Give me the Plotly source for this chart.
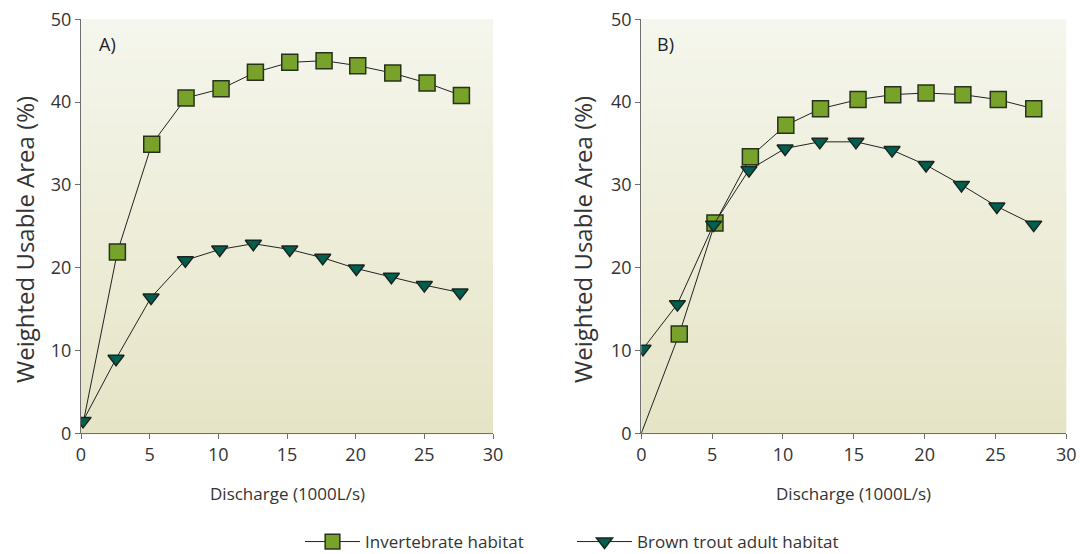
import plotly.graph_objects as go

# ---- data ----
x_inv_a = [0.2, 2.65, 5.15, 7.65, 10.2, 12.7, 15.2, 17.7, 20.15, 22.7, 25.2, 27.7]
y_inv_a = [1.6, 21.9, 34.9, 40.5, 41.6, 43.6, 44.8, 45.0, 44.4, 43.5, 42.3, 40.8]
x_trout_a = [0.15, 2.55, 5.1, 7.6, 10.1, 12.55, 15.2, 17.6, 20.05, 22.6, 25.0, 27.6]
y_trout_a = [1.5, 9.0, 16.4, 20.9, 22.2, 22.9, 22.2, 21.2, 19.9, 18.9, 17.9, 17.0]

x_inv_b = [0.0, 2.68, 5.2, 7.7, 10.2, 12.65, 15.3, 17.75, 20.1, 22.7, 25.2, 27.7]
y_inv_b = [0.0, 12.0, 25.4, 33.4, 37.2, 39.2, 40.3, 40.9, 41.1, 40.9, 40.3, 39.2]
x_trout_b = [0.12, 2.55, 5.1, 7.6, 10.15, 12.6, 15.15, 17.7, 20.1, 22.6, 25.1, 27.7]
y_trout_b = [10.2, 15.6, 25.2, 31.8, 34.4, 35.2, 35.2, 34.2, 32.4, 30.0, 27.4, 25.2]

x_ticks = [0, 5, 10, 15, 20, 25, 30]
y_ticks = [0, 10, 20, 30, 40, 50]

series_names = ["Invertebrate habitat", "Brown trout adult habitat"]

# ---- style ----
FONT = "Open Sans, Noto Sans, sans-serif"
TXT = "#333333"
SQ_FILL = "#79a22a"
SQ_LINE = "#26331a"
TR_FILL = "#005f4e"
TR_LINE = "#18261f"
LINE_C = "#222222"

# page body has an 8px default margin; lay the figure out in the visible area
OFF = 8
W, H = 1084 - OFF, 554 - OFF

def px(xp):
    return (xp - OFF) / W

def py(yp):
    return 1 - (yp - OFF) / H

fig = go.Figure()

def add_pair(xi, yi, xt, yt, xa, ya, show):
    sizes = [16] * len(xi)
    sizes[0] = 0  # first invertebrate marker hidden in the original
    fig.add_trace(go.Scatter(
        x=xi, y=yi, mode="lines+markers", name=series_names[0],
        xaxis=xa, yaxis=ya, showlegend=show, legendrank=1,
        line=dict(color=LINE_C, width=1),
        marker=dict(symbol="square", size=sizes, color=SQ_FILL, opacity=1,
                    line=dict(color=SQ_LINE, width=1.5)),
    ))
    fig.add_trace(go.Scatter(
        x=xt, y=yt, mode="lines+markers", name=series_names[1],
        xaxis=xa, yaxis=ya, showlegend=show, legendrank=2,
        line=dict(color=LINE_C, width=1),
        marker=dict(symbol="triangle-down", size=14, color=TR_FILL, opacity=1,
                    line=dict(color=TR_LINE, width=1.5)),
    ))

add_pair(x_inv_a, y_inv_a, x_trout_a, y_trout_a, "x", "y", True)
add_pair(x_inv_b, y_inv_b, x_trout_b, y_trout_b, "x2", "y2", False)

dom_a = [px(81), px(493)]
dom_b = [px(641.3), px(1066.3)]
dom_y = [py(433.3), py(19.3)]

axis_common = dict(
    showgrid=False, zeroline=False, showline=True, linecolor="#6e6e6e", linewidth=1.2,
    ticks="outside", ticklen=5, tickcolor="#6e6e6e", tickwidth=1.2,
    tickfont=dict(family=FONT, size=18, color=TXT), fixedrange=True, automargin=False,
    ticklabeloverflow="allow",
)
fig.update_layout(
    xaxis=dict(domain=dom_a, range=[0, 30], tickvals=x_ticks, anchor="y", **axis_common),
    yaxis=dict(domain=dom_y, range=[0, 50], tickvals=y_ticks, anchor="x", **axis_common),
    xaxis2=dict(domain=dom_b, range=[0, 30], tickvals=x_ticks, anchor="y2", **axis_common),
    yaxis2=dict(domain=dom_y, range=[0, 50], tickvals=y_ticks, anchor="x2", **axis_common),
)

# gradient background bands
top = (0xf5, 0xf6, 0xed)
bot = (0xe6, 0xe4, 0xc6)
N = 60
shapes = []
for xr, yr in (("x domain", "y domain"), ("x2 domain", "y2 domain")):
    for i in range(N):
        t = (i + 0.5) / N
        c = tuple(round(top[k] + (bot[k] - top[k]) * t) for k in range(3))
        shapes.append(dict(
            type="rect", xref=xr, yref=yr, x0=0, x1=1,
            y0=1 - (i + 1) / N - 0.002, y1=1 - i / N,
            fillcolor="rgb(%d,%d,%d)" % c, line=dict(width=0), layer="below",
        ))
fig.update_layout(shapes=shapes)

ann = []
for dom in (dom_a, dom_b):
    ann.append(dict(text="Discharge (1000L/s)", xref="paper", yref="paper",
                    x=(dom[0] + dom[1]) / 2, y=py(494), showarrow=False,
                    xanchor="center", yanchor="middle",
                    font=dict(family=FONT, size=17, color=TXT)))
for xp in (px(24), px(582)):
    ann.append(dict(text="Weighted Usable Area (%)", xref="paper", yref="paper",
                    x=xp, y=py(240), textangle=-90, showarrow=False,
                    xanchor="center", yanchor="middle",
                    font=dict(family=FONT, size=24, color=TXT)))
for lab, xp in (("A)", px(97)), ("B)", px(655))):
    ann.append(dict(text=lab, xref="paper", yref="paper", x=xp, y=py(44),
                    showarrow=False, xanchor="left", yanchor="middle",
                    font=dict(family=FONT, size=18, color="#222222")))
fig.update_layout(annotations=ann)

fig.update_layout(
    width=W, height=H,
    margin=dict(l=0, r=0, t=0, b=0, autoexpand=False),
    paper_bgcolor="white", plot_bgcolor="rgba(0,0,0,0)",
    font=dict(family=FONT, color=TXT),
    legend=dict(orientation="h", x=px(300), y=py(542), xanchor="left", yanchor="middle",
                font=dict(family=FONT, size=17, color=TXT), entrywidth=202,
                itemwidth=55, bgcolor="rgba(0,0,0,0)", traceorder="normal"),
)

fig.write_html("out.html")
